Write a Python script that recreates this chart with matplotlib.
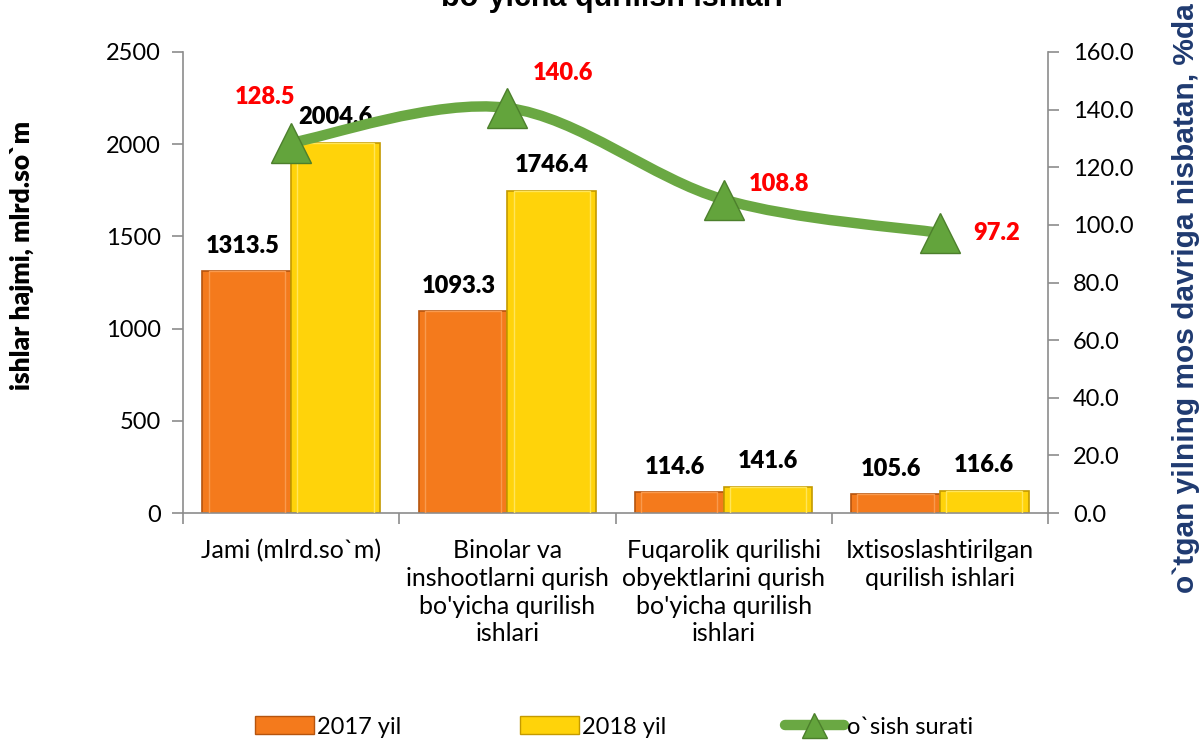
import matplotlib
matplotlib.use("Agg")
import matplotlib.pyplot as plt
import numpy as np
from matplotlib.path import Path
from matplotlib.patches import PathPatch, Patch
from matplotlib.lines import Line2D

categories = ["Jami (mlrd.so`m)",
              "Binolar va\ninshootlarni qurish\nbo'yicha qurilish\nishlari",
              "Fuqarolik qurilishi\nobyektlarini qurish\nbo'yicha qurilish\nishlari",
              "Ixtisoslashtirilgan\nqurilish ishlari"]
vals_2017 = [1313.5, 1093.3, 114.6, 105.6]
vals_2018 = [2004.6, 1746.4, 141.6, 116.6]
growth = [128.5, 140.6, 108.8, 97.2]
series_names = ["2017 yil", "2018 yil", "o`sish surati"]
left_label = "ishlar hajmi, mlrd.so`m"
right_label = "o`tgan yilning mos davriga nisbatan, %da"
title_line = "bo`yicha qurilish ishlari"

W, H = 1201, 740
fig = plt.figure(figsize=(W/100, H/100), dpi=100)
ax = fig.add_axes([183/W, 1-513/H, (1048-183)/W, (513-52)/H])
ax2 = ax.twinx()

sans = ["Lato", "DejaVu Sans"]
arial = ["Liberation Sans", "DejaVu Sans"]
axis_gray = "#8C8C8C"

x = np.arange(len(categories))
bw = 0.41
c17, e17 = "#F47A1C", "#B5540E"
c18, e18 = "#FFD30A", "#C49A00"
ax.bar(x - bw/2, vals_2017, bw, color=c17, edgecolor=e17, linewidth=1.2, zorder=2)
ax.bar(x + bw/2, vals_2018, bw, color=c18, edgecolor=e18, linewidth=1.2, zorder=2)
# bevel highlight
ax.bar(x - bw/2, vals_2017, bw*0.86, color="none", edgecolor="#F99A4E", linewidth=1.0, zorder=3)
ax.bar(x + bw/2, vals_2018, bw*0.86, color="none", edgecolor="#FFE55A", linewidth=1.0, zorder=3)

ax.set_xlim(-0.5, len(categories) - 0.5)
ax.set_ylim(0, 2500)
ax.set_yticks(np.arange(0, 2501, 500))
ax2.set_ylim(0, 160)
ax2.set_yticks(np.arange(0, 161, 20))
ax2.set_yticklabels([f"{v:.1f}" for v in np.arange(0, 161, 20)])

ax.set_xticks(x)
ax.set_xticklabels(categories, fontsize=18, family=sans, linespacing=1.24)
ax.tick_params(axis="x", length=0, pad=19)
ax.set_xticks(np.arange(-0.5, len(categories), 1), minor=True)
ax.tick_params(axis="x", which="minor", length=8, color=axis_gray, width=1.2, direction="out")
ax.tick_params(axis="y", length=8, color=axis_gray, width=1.2, labelsize=17, pad=8)
ax2.tick_params(axis="y", length=8, color=axis_gray, width=1.2, labelsize=17, pad=10)
for lab in ax.get_yticklabels() + ax2.get_yticklabels():
    lab.set_family(sans)

for a in (ax, ax2):
    a.spines["top"].set_visible(False)
    for s in ("left", "right", "bottom"):
        a.spines[s].set_color(axis_gray)
        a.spines[s].set_linewidth(1.2)
ax.spines["right"].set_visible(False)
ax2.spines["left"].set_visible(False)
ax2.spines["bottom"].set_visible(False)

# bar labels
for xi, v in zip(x - bw/2, vals_2017):
    ax.annotate(f"{v:.1f}", (xi, v), xytext=(-3, 18), textcoords="offset points",
                ha="center", va="center", fontsize=17, fontweight="heavy", family=sans, zorder=5)
for xi, v in zip(x + bw/2, vals_2018):
    ax.annotate(f"{v:.1f}", (xi, v), xytext=(0, 19), textcoords="offset points",
                ha="center", va="center", fontsize=17, fontweight="heavy", family=sans, zorder=5)

# smoothed line (Catmull-Rom -> cubic Bezier)
gx = x.astype(float)
gy = np.array(growth, dtype=float)
verts = [(gx[0], gy[0])]
codes = [Path.MOVETO]
n = len(gx)
for i in range(n - 1):
    p0 = (gx[max(i-1, 0)], gy[max(i-1, 0)])
    p1 = (gx[i], gy[i]); p2 = (gx[i+1], gy[i+1])
    p3 = (gx[min(i+2, n-1)], gy[min(i+2, n-1)])
    c1 = (p1[0] + (p2[0]-p0[0])/6, p1[1] + (p2[1]-p0[1])/6)
    c2 = (p2[0] - (p3[0]-p1[0])/6, p2[1] - (p3[1]-p1[1])/6)
    verts += [c1, c2, p2]
    codes += [Path.CURVE4]*3
green = "#6AA843"
ax2.add_patch(PathPatch(Path(verts, codes), facecolor="none", edgecolor=green,
                        linewidth=7.5, capstyle="round", zorder=4))
ax2.plot(gx, gy, linestyle="none", marker="^", markersize=29, markerfacecolor="#63A43C",
         markeredgecolor="#4C7F2C", markeredgewidth=1.0, zorder=5)

offsets = [(-19, 33), (40, 25), (40, 11), (41, 0)]
for xi, v, off in zip(gx, gy, offsets):
    ax2.annotate(f"{v:.1f}", (xi, v), xytext=off, textcoords="offset points",
                 ha="center", va="center", fontsize=17, fontweight="heavy", color="#FF0000",
                 family=sans, zorder=6)

fig.text(22/W, 1-255/H, left_label, rotation=90, ha="center", va="center",
         fontsize=19, fontweight="heavy", family=sans)
fig.text(1186/W, 1-593/H, right_label, rotation=90, ha="center", va="bottom",
         fontsize=21.5, fontweight="bold", color="#1F3A70", family=arial)
fig.text(612/W, 1-6/H, title_line, ha="center", va="baseline",
         fontsize=22, fontweight="bold", family=arial)

handles = [Patch(facecolor=c17, edgecolor=e17), Patch(facecolor=c18, edgecolor=e18),
           Line2D([], [], color=green, linewidth=7.5, marker="^", markersize=18,
                  markerfacecolor="#63A43C", markeredgecolor="#4C7F2C", solid_capstyle="round")]
fig.legend(handles, series_names, loc="center", bbox_to_anchor=(614/W, 1-727/H), ncol=3,
           frameon=False, prop={"family": sans, "size": 17}, columnspacing=5.0,
           handlelength=2.5, handleheight=0.8, handletextpad=0.15, borderaxespad=0)

fig.savefig("out.png", dpi=100)
